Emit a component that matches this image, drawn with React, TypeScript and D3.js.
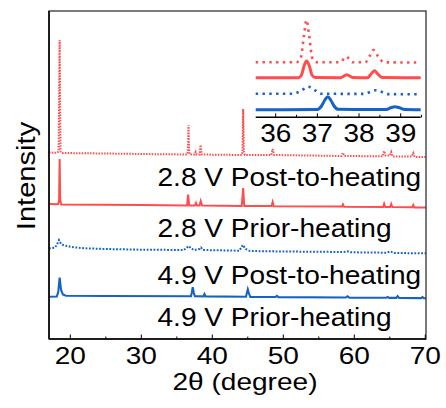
import React from "react";
import * as d3 from "d3";

// ---------- DATA ----------
// main panel: [2θ (deg), intensity (a.u., stacked)]
const post28: [number, number][] = [
  [17, 186.5], [18.1, 186.2], [18.35, 187.5], [18.5, 299], [18.62, 187.5], [18.85, 186],
  [25, 185.5], [30, 185], [36.45, 184.5], [36.55, 187], [36.65, 214], [36.75, 187], [36.85, 184.5],
  [37.5, 184.5], [37.65, 187], [37.8, 184.5], [38.2, 184.5], [38.35, 194], [38.5, 184.5],
  [44.15, 184], [44.25, 187], [44.35, 230], [44.45, 187], [44.6, 184], [48.3, 184], [48.5, 190],
  [48.7, 184], [58.2, 183], [58.4, 186.3], [58.6, 183], [64.0, 182.7], [64.2, 188], [64.4, 183.5],
  [65.0, 183.5], [65.2, 187], [65.4, 182.5], [68.1, 182.5], [68.3, 186], [68.5, 182], [70.1, 182],
];
const prior28: [number, number][] = [
  [17, 135], [18.3, 134.8], [18.42, 139], [18.5, 180], [18.58, 139], [18.72, 134.5], [30, 134],
  [36.45, 133.5], [36.6, 144.5], [36.75, 133.5], [37.55, 133.5], [37.7, 136], [37.85, 133.5],
  [38.2, 133.5], [38.37, 138], [38.55, 133.5], [44.15, 133], [44.35, 151], [44.5, 133],
  [48.35, 133], [48.5, 137], [48.65, 132.8], [58.25, 132.5], [58.4, 134.7], [58.55, 132.3],
  [64.05, 132], [64.2, 135.3], [64.35, 132], [65.05, 132], [65.2, 135], [65.35, 132],
  [68.15, 131.7], [68.3, 134], [68.45, 131.5], [70.1, 131.5],
];
const post49: [number, number][] = [
  [17, 90.7], [17.8, 91.2], [18.1, 94], [18.4, 99], [18.7, 95], [19.0, 94], [19.5, 93], [20.5, 91.7],
  [22, 90.7], [25, 90], [30, 89.3], [36.0, 89], [36.5, 92], [36.7, 93], [37.0, 90.5], [37.5, 89],
  [38.2, 90], [38.4, 91.5], [38.7, 89], [43.8, 88.3], [44.3, 94], [44.7, 90], [45.3, 88], [50, 87.5],
  [58.5, 87], [59.0, 87.7], [59.5, 86.7], [64.5, 86.3], [65.1, 87.5], [65.6, 86], [70.1, 85.7],
];
const prior49: [number, number][] = [
  [17, 42.3], [18.1, 42.5], [18.3, 47], [18.5, 61.3], [18.7, 49], [18.95, 44.5], [19.4, 43.3],
  [25, 43], [37.0, 42.7], [37.1, 46], [37.25, 51.7], [37.4, 46], [37.55, 42.7], [38.75, 42.6],
  [38.9, 45], [39.05, 42.6], [44.75, 42.2], [44.9, 47], [45.0, 49.7], [45.15, 46], [45.35, 42],
  [48.9, 42], [49.1, 43.2], [49.3, 41.9], [58.8, 41.5], [59.05, 42.7], [59.3, 41.4], [64.5, 41.2],
  [64.7, 42.1], [64.9, 41.1], [65.9, 41.1], [66.1, 42.8], [66.3, 41], [69.4, 40.9], [69.6, 42],
  [69.8, 40.7], [70.1, 40.7],
];

// inset panel: [2θ (deg), intensity (a.u., stacked)]
const insetPost28: [number, number][] = [
  [35.52, 55], [36.5, 55], [36.6, 59.3], [36.68, 82.3], [36.74, 97.3], [36.8, 82.3], [36.88, 59.3],
  [37.0, 55], [37.55, 55], [37.69, 60.6], [37.85, 55], [38.15, 55], [38.27, 62.3], [38.35, 67.3],
  [38.45, 61.3], [38.6, 55], [39.48, 54.8],
];
const insetPrior28: [number, number][] = [
  [35.52, 39.6], [36.55, 39.6], [36.62, 42.3], [36.68, 51.3], [36.74, 56.3], [36.8, 52.3],
  [36.87, 42.3], [36.95, 39.8], [37.55, 39.6], [37.71, 42.6], [37.85, 39.8], [38.2, 39.6],
  [38.3, 43.8], [38.37, 46.6], [38.45, 43.3], [38.55, 39.8], [39.48, 39.6],
];
const insetPost49: [number, number][] = [
  [35.52, 23.6], [36.4, 23.6], [36.6, 26.3], [36.78, 30.6], [36.95, 26.8], [37.1, 23.6],
  [38.1, 23.4], [38.3, 25.8], [38.4, 27], [38.55, 25.3], [38.7, 23.2], [39.48, 23],
];
const insetPrior49: [number, number][] = [
  [35.52, 7.6], [37.0, 7.8], [37.1, 11.3], [37.18, 17.3], [37.25, 20.6], [37.32, 17.3], [37.4, 11.3],
  [37.5, 8], [38.65, 7.8], [38.78, 9.8], [38.86, 10.6], [38.95, 9.8], [39.1, 7.8], [39.48, 7.6],
];

const seriesLabels = ["2.8 V Post-to-heating", "2.8 V Prior-heating", "4.9 V Post-to-heating", "4.9 V Prior-heating"];
const labelLevels = [153, 102, 55.5, 13]; // a.u. position of each label baseline
const xTicks = [20, 30, 40, 50, 60, 70];
const xMinorTicks = [25, 35, 45, 55, 65];
const insetTicks = [36, 37, 38, 39];
const insetMinorTicks = [36.5, 37.5, 38.5, 39.5];

// ---------- STYLE ----------
const RED = "#ff4d4d";
const BLUE = "#1662c6";
const FONT = "'Liberation Sans', Arial, sans-serif";

const W = 446, H = 408;
const m = { left: 49, right: 426, top: 11, bottom: 339 };
const inset = { left: 255.7, right: 420.7, top: 17.3, bottom: 117.3 };

function SText({ x, y, size, sx = 1, anchor = "start", rotate = 0, children }: any) {
  return (
    <g transform={`translate(${x},${y}) rotate(${rotate}) scale(${sx},1)`}>
      <text fontFamily={FONT} fontSize={size} textAnchor={anchor} fill="#000">{children}</text>
    </g>
  );
}

export default function App() {
  const x = d3.scaleLinear().domain([17, 70.1]).range([m.left, m.right]);
  const y = d3.scaleLinear().domain([0, 328]).range([m.bottom, m.top]);
  const xi = d3.scaleLinear().domain([35.52, 39.48]).range([inset.left, inset.right]);
  const yi = d3.scaleLinear().domain([0, 100]).range([inset.bottom, inset.top]);

  const line = d3.line<[number, number]>().x((d) => x(d[0])).y((d) => y(d[1]));
  const lineI = d3.line<[number, number]>().x((d) => xi(d[0])).y((d) => yi(d[1])).curve(d3.curveMonotoneX);

  return (
    <svg width={W} height={H} style={{ position: "absolute", left: 0, top: 0, background: "#fff" }}>
      <rect x={0} y={0} width={W} height={H} fill="#fff" />
      {/* main series */}
      <path d={line(post28)!} fill="none" stroke={RED} strokeWidth={2} strokeDasharray="1.5 1.3" />
      <path d={line(prior28)!} fill="none" stroke={RED} strokeWidth={2} />
      <path d={line(post49)!} fill="none" stroke={BLUE} strokeWidth={2} strokeDasharray="1.8 1.6" />
      <path d={line(prior49)!} fill="none" stroke={BLUE} strokeWidth={2.1} />

      {/* inset series */}
      <path d={lineI(insetPost28)!} fill="none" stroke={RED} strokeWidth={2.6} strokeDasharray="2.4 4.4" />
      <path d={lineI(insetPrior28)!} fill="none" stroke={RED} strokeWidth={3} />
      <path d={lineI(insetPost49)!} fill="none" stroke={BLUE} strokeWidth={2.6} strokeDasharray="2.4 4.4" />
      <path d={lineI(insetPrior49)!} fill="none" stroke={BLUE} strokeWidth={3} />

      {/* inset axis */}
      <line x1={inset.left} x2={inset.right} y1={inset.bottom} y2={inset.bottom} stroke="#000" strokeWidth={1.5} />
      {insetTicks.map((t) => (
        <line key={"it" + t} x1={xi(t)} x2={xi(t)} y1={inset.bottom} y2={inset.bottom - 4} stroke="#000" strokeWidth={1} />
      ))}
      {insetMinorTicks.map((t) => (
        <line key={"im" + t} x1={xi(t)} x2={xi(t)} y1={inset.bottom} y2={inset.bottom - 2.5} stroke="#000" strokeWidth={1} />
      ))}
      {insetTicks.map((t) => (
        <SText key={"il" + t} x={xi(t)} y={141.7} size={25} sx={1.12} anchor="middle">{t}</SText>
      ))}

      {/* frame */}
      <rect x={m.left} y={m.top} width={m.right - m.left} height={m.bottom - m.top} fill="none" stroke="#333" strokeWidth={1.3} />
      <line x1={m.left} x2={m.left} y1={m.top} y2={m.bottom} stroke="#000" strokeWidth={1.5} />
      <line x1={m.left} x2={m.right} y1={m.bottom} y2={m.bottom} stroke="#000" strokeWidth={1.5} />
      {xTicks.map((t) => (
        <line key={"t" + t} x1={x(t)} x2={x(t)} y1={m.bottom} y2={m.bottom - 4.5} stroke="#000" strokeWidth={1} />
      ))}
      {xMinorTicks.map((t) => (
        <line key={"mt" + t} x1={x(t)} x2={x(t)} y1={m.bottom} y2={m.bottom - 2.5} stroke="#000" strokeWidth={1} />
      ))}
      {xTicks.map((t) => (
        <SText key={"l" + t} x={x(t)} y={364} size={23} sx={1.22} anchor="middle">{t}</SText>
      ))}
      <SText x={245} y={390} size={23} sx={1.22} anchor="middle">2θ (degree)</SText>
      <SText x={35} y={176} size={26} sx={1.12} anchor="middle" rotate={-90}>Intensity</SText>

      {seriesLabels.map((s, i) => (
        <SText key={s} x={157.5} y={y(labelLevels[i])} size={26} sx={1.08}>{s}</SText>
      ))}
    </svg>
  );
}
